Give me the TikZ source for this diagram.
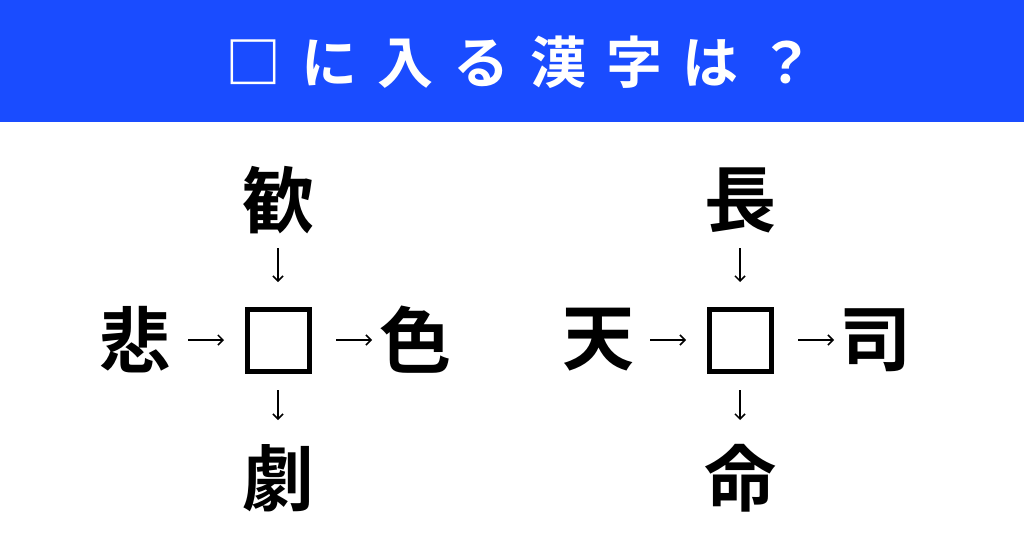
\documentclass[tikz,border=0pt]{standalone}
\usepackage{fontspec}
\newfontfamily\cjk[BoldFont={Noto Sans CJK JP Bold}]{Noto Sans CJK JP}
\definecolor{banner}{HTML}{1A4CFF}
\usetikzlibrary{arrows.meta}
\tikzset{ch/.style={font=\cjk\bfseries\fontsize{72}{72}\selectfont,inner sep=0pt},
 ar/.style={-{Straight Barb[length=5pt,width=10pt]},line width=1.5pt},
 bx/.style={draw,line width=5pt,minimum size=62pt,inner sep=0pt}}
\begin{document}
\begin{tikzpicture}[x=1pt,y=-1pt]
\useasboundingbox (0,0) rectangle (1024,538);
\fill[banner] (0,0) rectangle (1024,122);
\node[text=white,font=\cjk\bfseries\fontsize{56}{56}\selectfont\addfontfeature{LetterSpace=36}] (title) at (520,62) {□に入る漢字は？};
% left
\node[bx] (c1) at (278,340) {};
\node[ch] (t1) at (278,200) {歓};
\node[ch] (b1) at (278,478) {劇};
\node[ch] (l1) at (135,340) {悲};
\node[ch] (r1) at (415,340) {色};
\draw[ar] (278,248) -- (278,282);
\draw[ar] (278,390) -- (278,420);
\draw[ar] (188,340) -- (224,340);
\draw[ar] (336,340) -- (372,340);
% right
\node[bx] (c2) at (740,340) {};
\node[ch] (t2) at (740,200) {長};
\node[ch] (b2) at (740,478) {命};
\node[ch] (l2) at (598,340) {天};
\node[ch] (r2) at (875,340) {司};
\draw[ar] (740,248) -- (740,282);
\draw[ar] (740,390) -- (740,420);
\draw[ar] (650,340) -- (686,340);
\draw[ar] (798,340) -- (834,340);
\end{tikzpicture}
\end{document}
